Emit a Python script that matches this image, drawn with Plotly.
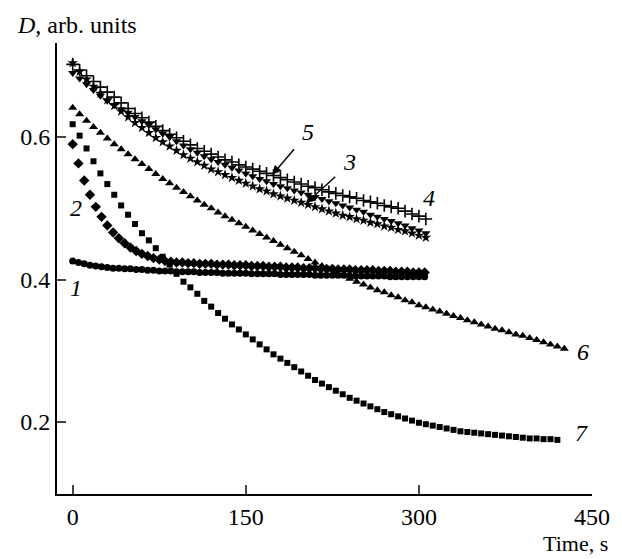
import plotly.graph_objects as go

# time grids (s)
t_fast = list(range(0, 306, 5))     # series 1, 2
t_mid = list(range(0, 307, 6))      # series 3, 4, 5
t6 = list(range(0, 427, 6))         # series 6
t7 = list(range(0, 421, 6))         # series 7

s1 = [.426, .424, .422, .420, .419, .418, .417, .416, .416, .415, .415, .414, .414, .413, .413, .412,
      .412, .412, .411, .411, .411, .411, .410, .410, .410, .410, .409, .409, .409, .409, .409, .408,
      .408, .408, .408, .408, .407, .407, .407, .407, .407, .407, .406, .406, .406, .406, .406, .406,
      .405, .405, .405, .405, .405, .405, .405, .404, .404, .404, .404, .404, .404, .404]
s2 = [.590, .563, .539, .519, .502, .488, .476, .466, .458, .451, .445, .440, .436, .433, .430, .428,
      .426, .425, .424, .424, .423, .423, .422, .422, .422, .421, .421, .421, .420, .420, .420, .419,
      .419, .419, .418, .418, .418, .417, .417, .417, .416, .416, .416, .415, .415, .415, .414, .414,
      .414, .413, .413, .413, .413, .412, .412, .412, .411, .411, .411, .410, .410, .410]
s3 = [.704, .692, .681, .671, .661, .652, .644, .636, .628, .620, .613, .606, .599, .593, .587, .581,
      .575, .570, .565, .560, .555, .551, .547, .543, .539, .535, .531, .527, .524, .520, .517, .514,
      .511, .508, .505, .502, .499, .496, .493, .490, .488, .485, .483, .480, .478, .475, .473, .470,
      .468, .465, .462, .459]
s4 = [.702, .694, .686, .678, .670, .663, .656, .648, .640, .633, .627, .621, .615, .609, .604, .599,
      .594, .589, .584, .580, .576, .572, .568, .565, .561, .558, .555, .552, .549, .546, .543, .540,
      .537, .534, .531, .529, .526, .523, .521, .518, .516, .514, .511, .509, .507, .504, .502, .500,
      .496, .492, .489, .485]
s5 = [.690, .682, .674, .666, .658, .651, .645, .639, .634, .628, .622, .617, .611, .605, .600, .594,
      .588, .583, .578, .573, .569, .565, .561, .557, .553, .549, .545, .541, .538, .534, .531, .528,
      .525, .522, .519, .516, .513, .510, .507, .504, .501, .498, .495, .491, .488, .485, .482, .479,
      .476, .472, .469, .465]
s6 = [.641, .632, .623, .614, .606, .598, .590, .583, .576, .569, .562, .555, .548, .541, .535, .529,
      .523, .517, .511, .505, .500, .494, .489, .484, .479, .474, .469, .464, .459, .454, .449, .444,
      .439, .434, .429, .424, .419, .414, .410, .405, .401, .397, .393, .389, .385, .382, .378, .375,
      .371, .368, .364, .361, .358, .355, .352, .349, .346, .343, .340, .337, .334, .331, .329, .326,
      .323, .321, .318, .315, .312, .309, .306, .303]
s7 = [.618, .602, .584, .566, .549, .534, .519, .504, .491, .478, .465, .455, .444, .432, .421, .408,
      .397, .389, .380, .370, .362, .353, .345, .337, .330, .323, .316, .309, .302, .295, .289, .283,
      .277, .271, .265, .259, .254, .249, .244, .239, .234, .230, .226, .222, .218, .214, .211, .208,
      .205, .202, .199, .197, .195, .193, .191, .189, .187, .186, .185, .184, .183, .182, .181, .180,
      .179, .178, .177, .177, .176, .176, .175]

x_ticks = [0, 150, 300, 450]
y_ticks = [0.2, 0.4, 0.6]

FONT = "Liberation Serif"

fig = go.Figure()

def add(x, y, symbol, size, thin=False):
    marker = dict(symbol=symbol, size=size, color="black")
    if thin:
        marker["line"] = dict(color="black", width=1.6)
    else:
        marker["line"] = dict(width=0)
    fig.add_trace(go.Scatter(x=x, y=y, mode="markers", marker=marker,
                             showlegend=False, hoverinfo="skip"))

add(t_fast, s1, "circle", 7)
add(t_fast, s2, "diamond", 8)
add(t_mid, s3, "star", 8)
add(t_mid, s4, "cross-thin", 9, thin=True)
add(t_mid, s5, "triangle-down", 8)
add(t6, s6, "triangle-up", 8)
add(t7, s7, "square", 6)

label_font = dict(family=FONT, size=24, color="black")
curve_labels = [
    ("1", 3, 0.388), ("2", 2.5, 0.500), ("3", 240, 0.565), ("4", 309, 0.514),
    ("5", 204, 0.607), ("6", 442, 0.298), ("7", 441, 0.185),
]
for txt, xx, yy in curve_labels:
    fig.add_annotation(x=xx, y=yy, text="<i>%s</i>" % txt, showarrow=False,
                       font=label_font, xanchor="center", yanchor="middle")

# arrows
fig.add_annotation(x=173, y=0.547, ax=23, ay=-27, text="", showarrow=True,
                   arrowhead=2, arrowsize=1.3, arrowwidth=1.4, arrowcolor="black")
fig.add_annotation(x=202, y=0.507, ax=31, ay=-28, text="", showarrow=True,
                   arrowhead=2, arrowsize=1.3, arrowwidth=1.4, arrowcolor="black")

fig.add_annotation(xref="paper", yref="paper", x=-0.079, y=1.04, text="<i>D</i>, arb. units",
                   showarrow=False, xanchor="left", yanchor="middle",
                   font=dict(family=FONT, size=24, color="black"))
fig.add_annotation(xref="paper", yref="paper", x=1.033, y=-0.109, text="Time, s",
                   showarrow=False, xanchor="right", yanchor="middle",
                   font=dict(family=FONT, size=22, color="black"))

fig.update_layout(
    width=614, height=551,
    margin=dict(l=45, r=22, t=35, b=65),
    paper_bgcolor="white", plot_bgcolor="white",
    font=dict(family=FONT, size=24, color="black"),
    xaxis=dict(range=[-13.6, 450], tickvals=x_ticks, ticks="inside", ticklen=9, tickwidth=2,
               showline=True, linewidth=2, linecolor="black", showgrid=False, zeroline=False,
               tickfont=dict(family=FONT, size=24)),
    yaxis=dict(range=[0.099, 0.732], tickvals=y_ticks, ticks="inside", ticklen=9, tickwidth=2,
               showline=True, linewidth=2, linecolor="black", showgrid=False, zeroline=False,
               tickfont=dict(family=FONT, size=24), tickformat=".1f"),
)

fig.write_html("out.html")
